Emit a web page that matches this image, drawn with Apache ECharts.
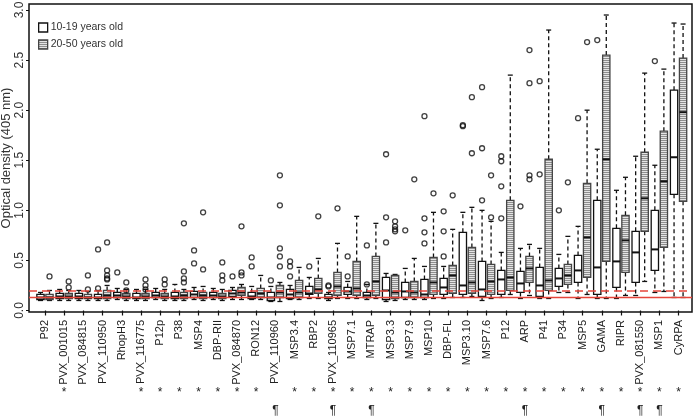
<!DOCTYPE html>
<html>
<head>
<meta charset="utf-8">
<script src="https://cdn.jsdelivr.net/npm/echarts@6.0.0/dist/echarts.min.js"></script>
<style>
html,body{margin:0;padding:0;background:#fff;}
#chart{width:700px;height:417px;}
</style>
</head>
<body>
<div id="chart"></div>
<script>
// ---------------- data ----------------
const categories = ["P92","PVX_001015","PVX_084815","PVX_110950","RhopH3","PVX_116775","P12p","P38","MSP4","DBP-RII","PVX_084870","RON12","PVX_110960","MSP3.4","RBP2","PVX_110965","MSP7.1","MTRAP","MSP3.3","MSP7.9","MSP10","DBP-FL","MSP3.10","MSP7.6","P12","ARP","P41","P34","MSP5","GAMA","RIPR","PVX_081550","MSP1","CyRPA"];

// [lower whisker, Q1, median, Q3, upper whisker]
const young = [
 [0.10,0.11,0.13,0.16,0.18],[0.10,0.12,0.14,0.17,0.21],[0.10,0.12,0.14,0.17,0.20],[0.10,0.12,0.13,0.16,0.20],
 [0.11,0.13,0.15,0.18,0.22],[0.10,0.12,0.13,0.17,0.21],[0.11,0.13,0.15,0.18,0.22],[0.10,0.12,0.14,0.18,0.26],
 [0.11,0.13,0.16,0.19,0.23],[0.11,0.13,0.15,0.18,0.22],[0.11,0.14,0.17,0.20,0.23],[0.11,0.12,0.14,0.18,0.24],
 [0.09,0.10,0.13,0.18,0.24],[0.11,0.12,0.16,0.21,0.25],[0.12,0.16,0.17,0.24,0.33],[0.10,0.12,0.13,0.16,0.18],
 [0.12,0.16,0.19,0.23,0.29],[0.11,0.13,0.15,0.18,0.26],[0.09,0.11,0.20,0.33,0.37],[0.11,0.13,0.19,0.28,0.42],
 [0.11,0.13,0.16,0.31,0.44],[0.12,0.16,0.23,0.32,0.44],[0.13,0.16,0.25,0.78,0.98],[0.10,0.14,0.21,0.49,1.00],
 [0.13,0.16,0.31,0.40,0.58],[0.12,0.18,0.27,0.39,0.62],[0.12,0.14,0.25,0.43,0.62],[0.18,0.24,0.32,0.42,0.56],
 [0.12,0.28,0.40,0.55,0.84],[0.12,0.16,0.43,1.10,1.61],[0.12,0.23,0.49,0.82,1.20],[0.15,0.28,0.58,0.79,1.54],
 [0.18,0.40,0.61,1.00,1.45],[0.13,1.16,1.53,2.20,2.87]
];
const adult = [
 [0.10,0.11,0.13,0.16,0.20],[0.10,0.12,0.14,0.17,0.20],[0.10,0.12,0.13,0.16,0.19],[0.10,0.12,0.15,0.20,0.25],
 [0.10,0.12,0.14,0.17,0.21],[0.10,0.12,0.14,0.17,0.21],[0.10,0.12,0.14,0.17,0.21],[0.10,0.12,0.15,0.18,0.21],
 [0.10,0.12,0.15,0.18,0.24],[0.10,0.12,0.14,0.17,0.21],[0.11,0.15,0.18,0.23,0.26],[0.11,0.13,0.17,0.22,0.35],
 [0.09,0.13,0.18,0.25,0.28],[0.11,0.13,0.18,0.30,0.43],[0.12,0.17,0.21,0.32,0.52],[0.12,0.15,0.24,0.38,0.67],
 [0.12,0.15,0.22,0.49,0.94],[0.12,0.15,0.29,0.54,0.87],[0.10,0.12,0.18,0.35,0.36],[0.11,0.13,0.18,0.29,0.52],
 [0.12,0.16,0.28,0.53,0.98],[0.13,0.17,0.35,0.45,0.81],[0.14,0.17,0.28,0.63,1.03],[0.12,0.16,0.29,0.46,0.89],
 [0.16,0.20,0.33,1.10,2.35],[0.15,0.28,0.42,0.54,0.66],[0.12,0.20,0.30,1.51,2.80],[0.18,0.26,0.35,0.46,0.74],
 [0.16,0.33,0.73,1.27,2.00],[0.12,0.49,1.51,2.55,2.95],[0.15,0.38,0.70,0.95,1.33],[0.29,0.79,1.12,1.58,2.37],
 [0.19,0.63,1.29,1.79,2.41],[0.13,1.09,1.98,2.52,2.86]
];
const youngOutliers = [
 [],[],[],[0.61,0.22],[0.38],[],[],[],[0.60,0.47],[],[0.34],[0.53,0.44],
 [0.30],[0.49,0.44,0.34],[0.44],[0.25,0.24],[0.54,0.34],[0.65,0.26],[1.56,0.93,0.68],[0.80],
 [1.94,0.92,0.78,0.67],[0.99,0.79,0.54],[1.85,1.84],[2.23,1.62,1.10],[1.54,1.49,1.24,0.92],[1.04],
 [2.29,1.36],[1.00],[1.92],[2.70],[],[],[2.49],[]
];
const adultOutliers = [
 [0.34],[0.29,0.23],[0.35,0.21],[0.68,0.40,0.35,0.32,0.31],[0.28,0.20],[0.31,0.25,0.21],[0.31,0.26],
 [0.87,0.39,0.32,0.28],[0.98,0.41],[0.48,0.35,0.30],[0.84,0.38,0.35],[],
 [1.35,1.05,0.62,0.54,0.44],[],[0.94],[1.02],[],[],[0.89,0.84,0.81,0.79],[1.31],[1.17],[1.15],
 [2.13,1.57],[1.35,0.93],[],[2.60,2.27,1.35,1.31],[],[1.28],[2.68],[],[],[],[],[]
];
const asterisk = [0,1,0,0,0,1,1,1,1,1,1,1,0,1,1,1,1,1,1,1,1,1,1,1,1,1,1,1,1,1,1,1,1,1];
const pilcrow  = [0,0,0,0,0,0,0,0,0,0,0,0,1,0,0,1,0,1,0,0,0,0,0,0,0,1,0,0,0,1,0,1,1,0];
const yTicks = [0,0.5,1.0,1.5,2.0,2.5,3.0];
const cutoffSolid = 0.13;
const cutoffDashed = 0.20;
const legendNames = ["10-19 years old","20-50 years old"];

// ---------------- styling ----------------
const FONT = "Liberation Sans, Arial, sans-serif";
const OFF = 0.235, BOX_HALF = 0.19, CAP_HALF = 0.13;
const RED = "#e5453b";

const pc = document.createElement('canvas');
pc.width = 4; pc.height = 2;
const pctx = pc.getContext('2d');
pctx.fillStyle = '#e4e4e4'; pctx.fillRect(0,0,4,2);
pctx.fillStyle = '#8e8e8e'; pctx.fillRect(0,0,4,1);
const hatch = {image: pc, repeat: 'repeat'};

const idx = categories.map((_, i) => i + 1);

function makeRender(offset, fill, border) {
  return function (params, api) {
    const x = api.value(0) + offset;
    const ys = [1,2,3,4,5].map(k => api.coord([x, api.value(k)])[1]);
    const cx = api.coord([x, 0])[0];
    const hw = api.size([BOX_HALF, 0])[0];
    const cw = api.size([CAP_HALF, 0])[0];
    const [yLow, yQ1, yMed, yQ3, yHigh] = ys;
    const dash = {stroke: '#111', lineWidth: 1.3, lineDash: [4, 3]};
    const solid = {stroke: '#111', lineWidth: 1.3};
    return {
      type: 'group',
      children: [
        {type: 'line', shape: {x1: cx, y1: yQ3, x2: cx, y2: yHigh}, style: dash},
        {type: 'line', shape: {x1: cx, y1: yQ1, x2: cx, y2: yLow}, style: dash},
        {type: 'line', shape: {x1: cx - cw, y1: yHigh, x2: cx + cw, y2: yHigh}, style: solid},
        {type: 'line', shape: {x1: cx - cw, y1: yLow, x2: cx + cw, y2: yLow}, style: solid},
        {type: 'rect', shape: {x: cx - hw, y: yQ3, width: 2 * hw, height: yQ1 - yQ3},
          style: {fill: fill, stroke: border, lineWidth: 1.3}},
        {type: 'line', shape: {x1: cx - hw, y1: yMed, x2: cx + hw, y2: yMed}, style: {stroke: '#111', lineWidth: 2}}
      ]
    };
  };
}

function outlierData(list, offset) {
  const out = [];
  list.forEach((vals, i) => vals.forEach(v => out.push([i + 1 + offset, v])));
  return out;
}

const chart = echarts.init(document.getElementById('chart'), null, {renderer: 'canvas'});

const xMin = 0.167, xMax = 34.70;
const baseX = {
  type: 'value', min: xMin, max: xMax, gridIndex: 0, position: 'bottom',
  splitLine: {show: false}, axisLine: {show: false}
};

chart.setOption({
  animation: false,
  backgroundColor: '#fff',
  grid: {left: 29, right: 8, top: 4, bottom: 105, containLabel: false, outerBoundsMode: 'none',
    show: true, borderColor: '#111', borderWidth: 1.5, backgroundColor: 'transparent'},
  legend: {
    orient: 'vertical', left: 38, top: 22, padding: 0, itemWidth: 9, itemHeight: 9, itemGap: 6,
    textStyle: {fontFamily: FONT, fontSize: 10.5, color: '#333', padding: [0, 0, 0, -2]},
    data: [
      {name: legendNames[0], icon: 'rect', itemStyle: {color: '#fff', borderColor: '#111', borderWidth: 1.3}},
      {name: legendNames[1], icon: 'rect', itemStyle: {color: hatch, borderColor: '#444', borderWidth: 1.3}}
    ]
  },
  xAxis: [
    Object.assign({}, baseX, {
      axisTick: {show: true, length: 5, customValues: idx, lineStyle: {color: '#111', width: 1.2}},
      axisLabel: {show: true, customValues: idx, rotate: 90, margin: 8, fontFamily: FONT, fontSize: 11, color: '#222',
        formatter: v => categories[Math.round(v) - 1] || ''}
    }),
    Object.assign({}, baseX, {
      offset: 70, axisTick: {show: false},
      axisLabel: {show: true, customValues: idx.filter((_, i) => asterisk[i]), margin: 5, fontFamily: FONT, fontSize: 12, color: '#222',
        formatter: () => '*'}
    }),
    Object.assign({}, baseX, {
      offset: 89, axisTick: {show: false},
      axisLabel: {show: true, customValues: idx.filter((_, i) => pilcrow[i]), margin: 4, fontFamily: FONT, fontSize: 12, color: '#222',
        formatter: () => '\u00b6'}
    })
  ],
  yAxis: {
    type: 'value', min: -0.015, max: 3.06,
    name: 'Optical density (405 nm)', nameLocation: 'middle', nameGap: 16, nameRotate: 90, nameMoveOverlap: false,
    nameTextStyle: {fontFamily: FONT, fontSize: 13, color: '#333'},
    splitLine: {show: false},
    axisLine: {show: false},
    axisTick: {show: true, length: 3, customValues: yTicks, lineStyle: {color: '#111'}},
    axisLabel: {customValues: yTicks, rotate: 90, margin: 3, align: 'center', verticalAlign: 'bottom',
      fontFamily: FONT, fontSize: 12, color: '#333',
      formatter: v => v.toFixed(1)}
  },
  series: [
    {
      name: legendNames[0], type: 'custom', xAxisIndex: 0, z: 2,
      renderItem: makeRender(-OFF, '#fff', '#111'),
      encode: {x: 0, y: [1, 2, 3, 4, 5]},
      itemStyle: {color: '#fff'},
      data: young.map((s, i) => [i + 1].concat(s))
    },
    {
      name: legendNames[1], type: 'custom', xAxisIndex: 0, z: 2,
      renderItem: makeRender(OFF, hatch, '#444'),
      encode: {x: 0, y: [1, 2, 3, 4, 5]},
      itemStyle: {color: '#bbb'},
      data: adult.map((s, i) => [i + 1].concat(s))
    },
    {
      name: 'young outliers', type: 'scatter', xAxisIndex: 0, symbol: 'circle', symbolSize: 5, z: 3,
      itemStyle: {color: 'rgba(0,0,0,0)', borderColor: '#111', borderWidth: 1.3},
      data: outlierData(youngOutliers, -OFF)
    },
    {
      name: 'adult outliers', type: 'scatter', xAxisIndex: 0, symbol: 'circle', symbolSize: 5, z: 3,
      itemStyle: {color: 'rgba(0,0,0,0)', borderColor: '#111', borderWidth: 1.3},
      data: outlierData(adultOutliers, OFF),
      markLine: {
        silent: true, symbol: ['none', 'none'], label: {show: false}, z: 5,
        data: [
          {yAxis: cutoffSolid, lineStyle: {color: RED, width: 1.3, type: 'solid'}},
          {yAxis: cutoffDashed, lineStyle: {color: RED, width: 1.5, type: [8, 5]}}
        ]
      }
    }
  ]
});
</script>
</body>
</html>
